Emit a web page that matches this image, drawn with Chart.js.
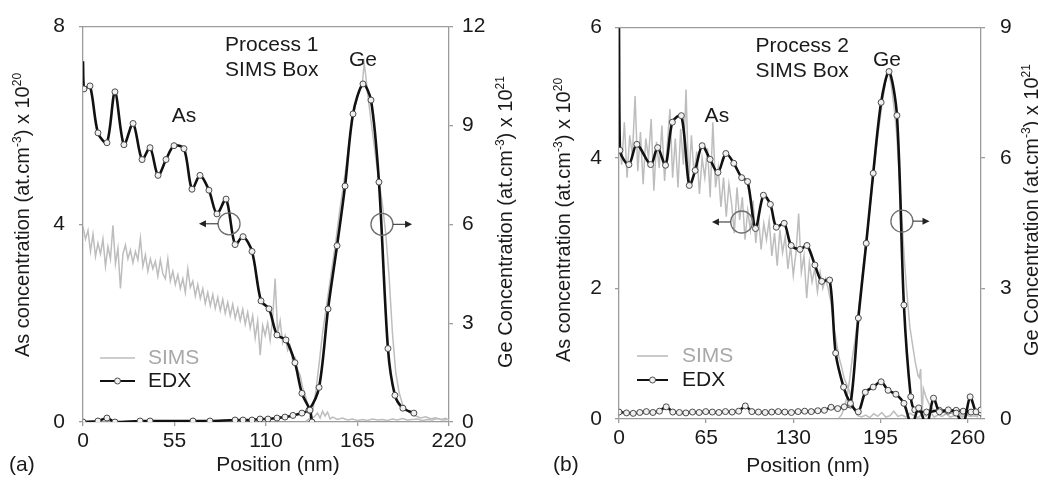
<!DOCTYPE html>
<html>
<head>
<meta charset="utf-8">
<script src="https://cdn.jsdelivr.net/npm/chart.js@4.4.1/dist/chart.umd.min.js"></script>
<style>
  html, body { margin: 0; padding: 0; background: #fff; }
  #wrap { position: relative; width: 1038px; height: 487px; overflow: hidden; }
  .panel { position: absolute; top: 0; width: 519px; height: 487px; }
</style>
</head>
<body>
<div id="wrap">
  <div class="panel" style="left:0"><canvas id="chartA" width="519" height="487"></canvas></div>
  <div class="panel" style="left:519px"><canvas id="chartB" width="519" height="487"></canvas></div>
</div>
<script>
// ---------- Process 1 (panel a) ----------
const aTicksX = [0, 55, 110, 165, 220];
const aTicksLeft = [0, 4, 8];
const aTicksRight = [0, 3, 6, 9, 12];

// EDX As profile (left axis, x 10^20 at/cm3)
const aAsEdxX = [0, 0.6, 4.2, 9.0, 14.4, 19.2, 24.6, 30.1, 35.5, 40.3, 45.1, 49.9, 54.7, 60.7, 65.5, 70.3, 75.7, 80.5, 86.0, 91.4, 96.2, 101.6, 107.0, 111.8, 116.6, 122.0, 127.4, 131.6, 136.4, 137.6];
const aAsEdxY = [7.30, 6.74, 6.80, 5.85, 5.65, 6.68, 5.61, 6.04, 5.31, 5.55, 4.99, 5.31, 5.59, 5.53, 4.71, 4.99, 4.69, 4.21, 4.51, 3.59, 3.75, 3.45, 2.45, 2.29, 1.76, 1.66, 1.20, 0.58, 0.24, 0.0];

// EDX Ge profile (right axis, x 10^21 at/cm3)
const aGeEdxX = [0, 9.0, 14.4, 19.2, 34.3, 40.3, 66.1, 76.3, 91.4, 96.2, 101.6, 106.4, 111.2, 116.6, 121.4, 126.2, 131.6, 135.8, 141.9, 147.3, 152.7, 157.5, 162.3, 168.3, 173.1, 177.9, 183.3, 187.5, 192.3, 198.9];
const aGeEdxY = [0.0, 0.03, 0.12, 0.0, 0.03, 0.03, 0.03, 0.03, 0.06, 0.06, 0.06, 0.09, 0.09, 0.12, 0.15, 0.20, 0.27, 0.36, 1.05, 3.43, 5.35, 7.16, 9.35, 10.26, 9.77, 7.28, 2.23, 0.81, 0.42, 0.27];

// SIMS As profile (left axis)
const aAsSimsX = [0, 1.5, 3, 4.5, 6, 7.5, 9, 10.5, 12, 13.5,
  15, 16.5, 18, 19.5, 21, 22.5, 24, 25.5, 27, 28.5,
  30, 31.5, 33, 34.5, 36, 37.5, 39, 40.5, 42, 43.5,
  45, 46.5, 48, 49.5, 51, 52.5, 54, 55.5, 57, 58.5,
  60, 61.5, 63, 64.5, 66, 67.5, 69, 70.5, 72, 73.5,
  75, 76.5, 78, 79.5, 81, 82.5, 84, 85.5, 87, 88.5,
  90, 91.5, 93, 94.5, 96, 97.5, 99, 100.5, 102, 103.5,
  105, 106.5, 108, 109.5, 111, 112.5, 114, 115.5, 117, 118.5,
  120, 121.5, 123, 124.5, 126, 127.5, 129, 130.5, 132, 133.5,
  135, 136.5, 138,
  139.5, 141, 142.5, 144, 145.5, 147, 148.5, 150,
  153, 156, 159, 162, 165, 168, 171, 174, 177, 180, 183, 186, 189, 192, 195, 198, 201, 204, 207, 210, 213, 216, 219];
const aAsSimsY = [3.95, 3.70, 3.88, 3.45, 3.80, 3.35, 3.62, 3.40, 3.70, 3.15,
  3.55, 3.30, 3.98, 3.20, 3.52, 2.70, 3.40, 3.58, 3.30, 3.48,
  3.22, 3.45, 3.28, 3.72, 3.15, 3.38, 3.05, 3.30, 3.10, 3.25,
  2.95, 3.28, 3.00, 2.90, 3.30, 2.85, 3.05, 2.78, 2.98, 2.70,
  2.90, 2.62, 3.10, 2.72, 2.85, 2.55, 2.78, 2.50, 2.70, 2.40,
  2.62, 2.35, 2.58, 2.30, 2.52, 2.25, 2.48, 2.20, 2.42, 2.15,
  2.38, 2.10, 2.30, 2.05, 2.28, 1.98, 2.22, 1.90, 2.15, 1.70,
  2.05, 1.35, 1.95, 1.75, 2.00, 1.65, 2.10, 2.90, 1.80, 2.05,
  1.60, 1.75, 1.45, 1.55, 1.25, 1.30, 1.05, 0.95, 0.70, 0.55,
  0.35, 0.20, 0.08,
  0.12, 0.18, 0.08, 0.22, 0.12, 0.20, 0.06, 0.10,
  0.05, 0.08, 0.04, 0.06, 0.03, 0.05, 0.03, 0.06, 0.04, 0.05, 0.03, 0.06, 0.04, 0.07, 0.04, 0.05, 0.06, 0.03, 0.05, 0.04, 0.07, 0.04, 0.05];

// SIMS Ge profile (right axis)
const aGeSimsX = [134, 136, 138, 140, 142, 144, 146, 148, 150, 152, 154, 156, 158, 160, 162, 164, 166, 168, 169, 170, 171, 172, 174, 176, 178, 180, 182, 184, 186, 188, 190, 192, 194, 196, 198, 200, 203, 206, 209, 212, 215, 218, 220];
const aGeSimsY = [0.02, 0.10, 0.30, 0.95, 1.80, 2.70, 3.40, 4.10, 4.80, 5.50, 6.30, 7.00, 7.70, 8.50, 9.20, 9.70, 10.10, 10.30, 10.90, 10.50, 10.00, 9.60, 8.80, 8.00, 7.30, 6.60, 5.70, 4.40, 2.70, 1.50, 0.90, 0.55, 0.40, 0.30, 0.22, 0.18, 0.12, 0.16, 0.10, 0.13, 0.08, 0.11, 0.06];

// ---------- Process 2 (panel b) ----------
const bTicksX = [0, 65, 130, 195, 260];
const bTicksLeft = [0, 2, 4, 6];
const bTicksRight = [0, 3, 6, 9];

const bAsEdxX = [0, 0.7, 7.4, 13.3, 23.6, 28.8, 34.7, 39.8, 46.5, 52.4, 56.8, 62.0, 67.9, 73.8, 79.7, 85.6, 91.5, 95.9, 101.8, 107.7, 112.9, 117.3, 123.2, 128.4, 135.0, 140.2, 146.1, 151.2, 157.1, 161.6, 167.5, 172.6, 178.5, 183.7, 189.6, 195.5, 200.7, 206.5, 212.5, 218.4, 223.5, 229.4, 234.6, 239.0, 245.6, 251.5, 256.7, 261.9, 266.3, 270];
const bAsEdxY = [6.0, 4.12, 3.90, 4.21, 3.90, 4.16, 3.89, 4.55, 4.65, 3.58, 3.81, 4.19, 3.98, 3.78, 4.07, 3.92, 3.70, 3.64, 2.92, 3.43, 3.29, 2.94, 3.00, 2.66, 2.60, 2.66, 2.36, 2.11, 2.13, 1.01, 0.49, 0.24, 0.11, 0.41, 0.49, 0.57, 0.44, 0.38, 0.24, -0.10, 0.17, -0.10, 0.32, 0.11, 0.14, 0.09, -0.08, 0.34, 0.11, 0.14];

const bGeEdxX = [0, 5.6, 10.6, 15.5, 20.4, 25.3, 30.2, 35.2, 40.1, 45.0, 49.9, 54.8, 59.8, 64.7, 69.6, 74.5, 79.4, 84.4, 89.3, 94.2, 99.1, 104.0, 109.0, 113.9, 118.8, 123.7, 128.6, 133.6, 138.5, 143.4, 148.3, 153.2, 158.2, 163.1, 168.0,
  172.6, 178.5, 184.4, 189.6, 195.5, 201.4, 207.3, 212.5, 217.6, 220.6, 229.4, 239.0, 245.6, 251.5, 256.7, 262.6, 270];
const bGeEdxY = [0.16, 0.14, 0.13, 0.15, 0.17, 0.15, 0.18, 0.28, 0.16, 0.15, 0.14, 0.16, 0.15, 0.17, 0.16, 0.15, 0.17, 0.16, 0.18, 0.30, 0.17, 0.16, 0.15, 0.16, 0.17, 0.16, 0.15, 0.17, 0.18, 0.17, 0.19, 0.20, 0.27, 0.24, 0.28,
  0.32, 2.32, 4.04, 5.65, 7.28, 7.99, 6.98, 2.62, 0.51, 0.21, 0.16, 0.20, 0.18, 0.20, 0.18, 0.16, 0.14];

const bAsSimsX = [0, 2, 4, 6, 8, 10, 12, 14, 16, 18,
  20, 22, 24, 26, 28, 30, 32, 34, 36, 38,
  40, 42, 44, 46, 48, 50, 52, 54, 56, 58,
  60, 62, 64, 66, 68, 70, 72, 74, 76, 78,
  80, 82, 84, 86, 88, 90, 92, 94, 96, 98,
  100, 102, 104, 106, 108, 110, 112, 114, 116, 118,
  120, 122, 124, 126, 128, 130, 132, 134, 136, 138,
  140, 142, 144, 146, 148, 150, 152, 154, 156, 158,
  160, 162, 164, 166, 168, 170, 172, 174, 176, 178,
  181, 184, 187, 190, 193, 196, 199, 202, 205, 208, 211, 214, 217, 220, 223, 226, 229, 232, 235, 238, 241, 244, 247, 250, 253, 256, 259, 262, 265, 268];
const bAsSimsY = [4.30, 3.90, 4.55, 3.70, 4.35, 4.05, 4.95, 3.80, 4.40, 3.60,
  4.30, 4.00, 4.60, 3.50, 4.25, 3.85, 4.50, 3.65, 4.20, 4.75,
  3.70, 4.30, 3.55, 4.45, 3.90, 5.05, 3.60, 4.35, 3.75, 4.10,
  3.45, 4.00, 3.70, 4.15, 3.40, 4.55, 3.55, 3.85, 3.25, 3.70,
  3.10, 3.60, 3.30, 2.85, 3.55, 3.05, 3.40, 2.75, 3.20, 2.90,
  3.35, 2.70, 3.10, 2.60, 3.00, 2.75, 3.05, 2.50, 2.85, 2.35,
  2.90, 2.55, 2.80, 2.30, 2.65, 2.20, 2.55, 3.15, 2.25, 2.50,
  1.85, 2.40, 2.10, 2.30, 1.95, 2.25, 2.00, 2.15, 2.00, 1.80,
  1.45, 1.20, 0.95, 0.80, 0.62, 0.52, 0.42, 0.25, 0.12, 0.05,
  0.03, 0.06, 0.02, 0.08, 0.04, 0.10, 0.03, 0.05, 0.12, 0.04, 0.06, 0.03, 0.09, 0.05, 0.02, 0.07, 0.04, 0.11, 0.03, 0.06, 0.04, 0.08, 0.03, 0.05, 0.07, 0.03, 0.06, 0.04, 0.05, 0.03];

const bGeSimsX = [164, 166, 168, 170, 172, 174, 176, 178, 181, 184, 187, 190, 193, 196, 199, 201, 203, 205, 207, 209, 211, 213, 215, 217, 219, 221, 223, 224, 225, 226, 227, 229, 232, 235, 238, 241, 244, 247, 250, 253, 256, 259, 262, 265, 268];
const bGeSimsY = [0.02, 0.10, 0.25, 0.50, 0.90, 1.40, 1.80, 2.30, 3.20, 4.00, 4.80, 5.70, 6.50, 7.20, 7.80, 8.00, 7.70, 7.20, 6.60, 5.60, 4.60, 3.60, 2.80, 2.10, 1.70, 1.30, 1.00, 0.95, 1.15, 0.05, 0.70, 0.50, 0.30, 0.20, 0.15, 0.18, 0.12, 0.15, 0.10, 0.14, 0.09, 0.12, 0.10, 0.13, 0.08];

// ---------- shared styling ----------
const FONT = '"Liberation Sans", Arial, Helvetica, sans-serif';
const AXIS_COLOR = '#9c9c9c';
const TEXT_COLOR = '#1a1a1a';
const SIMS_COLOR = '#bdbdbd';
const EDX_COLOR = '#111111';

const LEFT_TITLE = [['As concentration (at.cm', false], ['-3', true], [') x 10', false], ['20', true]];
const RIGHT_TITLE = [['Ge Concentration (at.cm', false], ['-3', true], [') x 10', false], ['21', true]];

function pts(xs, ys) { return xs.map((x, i) => ({ x: x, y: ys[i] })); }

// EDX traces: black smoothed line with hollow circle markers
// (the surface spike that opens an As profile carries no marker)
function edxSet(label, xs, ys, axis, bareFirst) {
  return {
    label: label, data: pts(xs, ys), yAxisID: axis, order: 0,
    borderColor: EDX_COLOR, borderWidth: 2.6, tension: 0.3,
    pointRadius: ctx => (bareFirst && ctx.dataIndex === 0 ? 0 : 3),
    pointBorderWidth: 1, pointBorderColor: '#4a4a4a',
    pointBackgroundColor: '#f0f0f0'
  };
}
function simsSet(label, xs, ys, axis) {
  return {
    label: label, data: pts(xs, ys), yAxisID: axis, order: 1,
    borderColor: SIMS_COLOR, borderWidth: 1.5, tension: 0,
    pointRadius: 0
  };
}

// Draws a string with superscript pieces, centred on (x, y), optionally rotated
function drawRich(ctx, segs, x, y, angle, size, color) {
  const sup = Math.round(size * 0.62);
  ctx.save();
  ctx.translate(x, y);
  ctx.rotate(angle);
  ctx.fillStyle = color;
  ctx.textAlign = 'left';
  ctx.textBaseline = 'alphabetic';
  let total = 0;
  const widths = segs.map(s => {
    ctx.font = (s[1] ? sup : size) + 'px ' + FONT;
    const w = ctx.measureText(s[0]).width;
    total += w;
    return w;
  });
  let cx = -total / 2;
  segs.forEach((s, i) => {
    ctx.font = (s[1] ? sup : size) + 'px ' + FONT;
    const base = size * 0.36 - (s[1] ? size * 0.42 : 0);
    ctx.fillText(s[0], cx, base);
    cx += widths[i];
  });
  ctx.restore();
}

function drawArrowMarker(ctx, cx, cy, r, tipX) {
  ctx.save();
  ctx.strokeStyle = '#6e6e6e';
  ctx.lineWidth = 1.3;
  ctx.beginPath();
  ctx.arc(cx, cy, r, 0, Math.PI * 2);
  ctx.stroke();
  const dir = tipX < cx ? -1 : 1;
  const startX = cx + dir * r;
  ctx.strokeStyle = '#222';
  ctx.lineWidth = 1;
  ctx.beginPath();
  ctx.moveTo(startX, cy);
  ctx.lineTo(tipX - dir * 5, cy);
  ctx.stroke();
  ctx.fillStyle = '#222';
  ctx.beginPath();
  ctx.moveTo(tipX, cy);
  ctx.lineTo(tipX - dir * 7, cy - 3.5);
  ctx.lineTo(tipX - dir * 7, cy + 3.5);
  ctx.closePath();
  ctx.fill();
  ctx.restore();
}

function panelExtras(cfg) {
  return {
    id: 'panelExtras',
    afterDraw(chart) {
      const ctx = chart.ctx;
      const a = chart.chartArea;
      const xs = chart.scales.x, yl = chart.scales.y, yr = chart.scales.y2;

      // top frame line
      ctx.save();
      ctx.strokeStyle = AXIS_COLOR;
      ctx.lineWidth = 1.3;
      ctx.beginPath();
      ctx.moveTo(a.left, a.top);
      ctx.lineTo(a.right, a.top);
      ctx.stroke();
      ctx.restore();

      // axis titles
      drawRich(ctx, LEFT_TITLE, cfg.leftTitle[0], cfg.leftTitle[1], -Math.PI / 2, 20, TEXT_COLOR);
      drawRich(ctx, RIGHT_TITLE, cfg.rightTitle[0], cfg.rightTitle[1], -Math.PI / 2, 20, TEXT_COLOR);

      ctx.save();
      ctx.fillStyle = TEXT_COLOR;
      ctx.font = '21px ' + FONT;
      ctx.textBaseline = 'middle';
      ctx.textAlign = 'center';
      ctx.fillText('Position (nm)', cfg.xTitle[0], cfg.xTitle[1]);
      ctx.textAlign = 'left';
      ctx.fillText(cfg.tag, cfg.tagPos[0], cfg.tagPos[1]);

      // in-plot labels
      ctx.fillText(cfg.process, xs.getPixelForValue(cfg.processAt[0]), yl.getPixelForValue(cfg.processAt[1]));
      ctx.fillText('SIMS Box', xs.getPixelForValue(cfg.processAt[0]), yl.getPixelForValue(cfg.processAt[2]));
      ctx.textAlign = 'center';
      ctx.fillText('Ge', xs.getPixelForValue(cfg.geAt[0]), yl.getPixelForValue(cfg.geAt[1]));
      ctx.fillText('As', xs.getPixelForValue(cfg.asAt[0]), yl.getPixelForValue(cfg.asAt[1]));
      ctx.restore();

      // axis indicators
      drawArrowMarker(ctx, xs.getPixelForValue(cfg.leftMark[0]), yl.getPixelForValue(cfg.leftMark[1]), 11, xs.getPixelForValue(cfg.leftMark[2]));
      drawArrowMarker(ctx, xs.getPixelForValue(cfg.rightMark[0]), yr.getPixelForValue(cfg.rightMark[1]), 11, xs.getPixelForValue(cfg.rightMark[2]));

      // legend
      const lx1 = a.left + cfg.legend[0], lx2 = a.left + cfg.legend[1], tx = a.left + cfg.legend[2];
      const r1 = cfg.legend[3], r2 = cfg.legend[4];
      ctx.save();
      ctx.strokeStyle = SIMS_COLOR;
      ctx.lineWidth = 1.6;
      ctx.beginPath(); ctx.moveTo(lx1, r1); ctx.lineTo(lx2, r1); ctx.stroke();
      ctx.strokeStyle = EDX_COLOR;
      ctx.lineWidth = 2;
      ctx.beginPath(); ctx.moveTo(lx1, r2); ctx.lineTo(lx2, r2); ctx.stroke();
      ctx.fillStyle = '#f0f0f0';
      ctx.strokeStyle = '#4a4a4a';
      ctx.lineWidth = 1;
      ctx.beginPath(); ctx.arc((lx1 + lx2) / 2, r2, 3, 0, Math.PI * 2); ctx.fill(); ctx.stroke();
      ctx.font = '21px ' + FONT;
      ctx.textAlign = 'left';
      ctx.textBaseline = 'middle';
      ctx.fillStyle = '#a8a8a8';
      ctx.fillText('SIMS', tx, r1);
      ctx.fillStyle = TEXT_COLOR;
      ctx.fillText('EDX', tx, r2);
      ctx.restore();
    }
  };
}

function axisOpts(min, max, ticks, position, size, padding) {
  return {
    type: 'linear', position: position, min: min, max: max,
    afterBuildTicks: s => { s.ticks = ticks.map(v => ({ value: v })); },
    afterFit: s => {
      if (position === 'bottom') { s.height = size; } else { s.width = size; }
    },
    ticks: { font: { family: FONT, size: 21 }, color: TEXT_COLOR, padding: padding, maxRotation: 0, autoSkip: false },
    grid: { display: true, drawOnChartArea: false, drawTicks: true, tickLength: 4, color: AXIS_COLOR, lineWidth: 1.3 },
    border: { display: true, color: AXIS_COLOR, width: 1.3 }
  };
}

function makeChart(id, datasets, scales, topPad, extras) {
  return new Chart(document.getElementById(id), {
    type: 'line',
    data: { datasets: datasets },
    options: {
      responsive: false, animation: false, devicePixelRatio: 1,
      layout: { padding: { top: topPad, left: 0, right: 0, bottom: 0 } },
      plugins: { legend: { display: false }, tooltip: { enabled: false } },
      scales: scales
    },
    plugins: [extras]
  });
}

makeChart('chartA', [
  edxSet('EDX As', aAsEdxX, aAsEdxY, 'y', true),
  edxSet('EDX Ge', aGeEdxX, aGeEdxY, 'y2', false),
  simsSet('SIMS As', aAsSimsX, aAsSimsY, 'y'),
  simsSet('SIMS Ge', aGeSimsX, aGeSimsY, 'y2')
], {
  x: axisOpts(0, 220, aTicksX, 'bottom', 65, 3),
  y: axisOpts(0, 8, aTicksLeft, 'left', 83, 14),
  y2: axisOpts(0, 12, aTicksRight, 'right', 70, 9)
}, 23, panelExtras({
  leftTitle: [22, 215], rightTitle: [505, 222],
  xTitle: [278, 465], tag: '(a)', tagPos: [9, 465],
  process: 'Process 1', processAt: [85.4, 7.62, 7.12],
  geAt: [168.3, 7.32], asAt: [60.7, 6.18],
  leftMark: [87.8, 4.01, 69.7], rightMark: [179.7, 6.0, 197.8],
  legend: [17, 52, 65, 358, 381]
}));

makeChart('chartB', [
  edxSet('EDX As', bAsEdxX, bAsEdxY, 'y', true),
  edxSet('EDX Ge', bGeEdxX, bGeEdxY, 'y2', false),
  simsSet('SIMS As', bAsSimsX, bAsSimsY, 'y'),
  simsSet('SIMS Ge', bGeSimsX, bGeSimsY, 'y2')
], {
  x: axisOpts(0, 270, bTicksX, 'bottom', 68, 3),
  y: axisOpts(0, 6, bTicksLeft, 'left', 100, 13),
  y2: axisOpts(0, 9, bTicksRight, 'right', 57, 15)
}, 27, panelExtras({
  leftTitle: [44, 220], rightTitle: [512, 210],
  xTitle: [289, 466], tag: '(b)', tagPos: [34, 465],
  process: 'Process 2', processAt: [101.8, 5.71, 5.33],
  geAt: [199.9, 5.50], asAt: [73.0, 4.64],
  leftMark: [91.5, 3.02, 69.3], rightMark: [211.0, 4.55, 231.6],
  legend: [18, 49, 63, 356, 380]
}));
</script>
</body>
</html>
